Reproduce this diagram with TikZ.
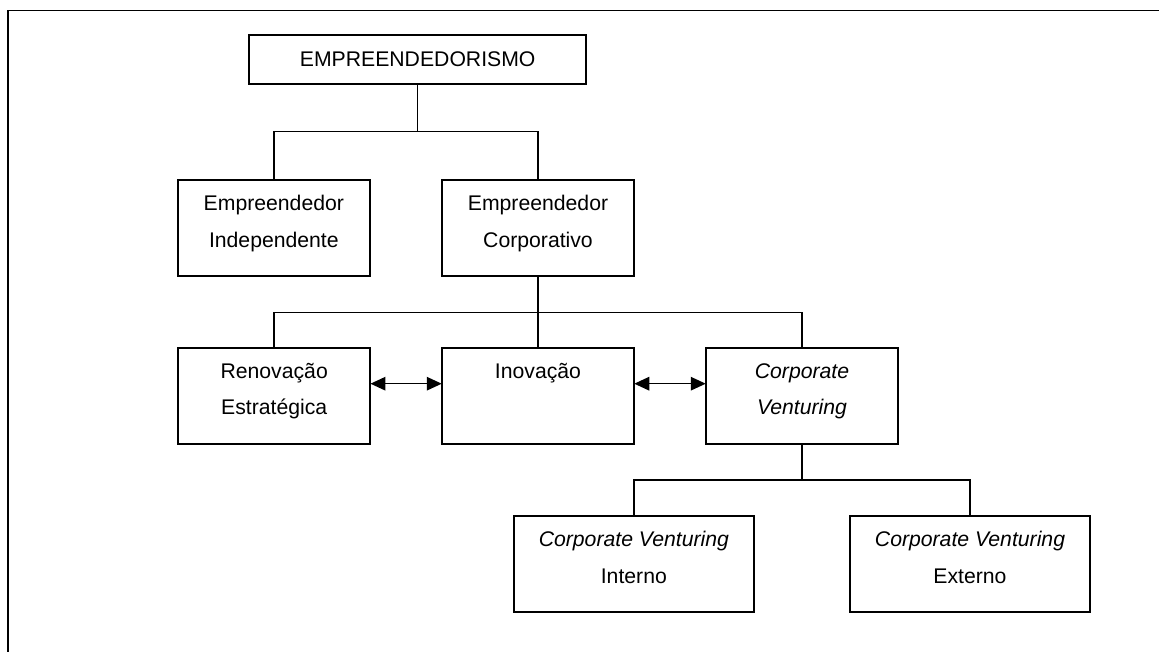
\documentclass[tikz,border=0pt]{standalone}
\usepackage{fontspec}
\setmainfont{Liberation Sans}
\usetikzlibrary{arrows.meta}
\newcommand{\bxt}[4]{\parbox[c][#2pt][t]{#1pt}{\centering\baselineskip=36.8pt\rule{0pt}{#3pt}#4\par}}
\begin{document}
\begin{tikzpicture}[x=1pt,y=-1pt,
  box/.style={draw, line width=2pt, inner sep=0pt, outer sep=0pt,
    font=\fontsize{21.2pt}{36.8pt}\selectfont},
  conn/.style={line width=1.5pt},
  biarrow/.style={line width=1.5pt, {Triangle[length=15pt,width=13.5pt]}-{Triangle[length=15pt,width=13.5pt]}}]
\useasboundingbox (0,0) rectangle (1159,652);
% frame (cut by the page at right and bottom)
\draw[line width=1.4pt] (8,660) -- (8,10.5) -- (1170,10.5);

\node[box] (top) at (417.7,59.35) {\bxt{336.7}{48.7}{31.5}{EMPREENDEDORISMO}};
\node[box] (ei)  at (273.85,227.9) {\bxt{192.5}{96}{30.7}{Empreendedor\\Independente}};
\node[box] (ec)  at (538,227.9) {\bxt{192.5}{96}{30.7}{Empreendedor\\Corporativo}};
\node[box] (ren) at (274.2,395.85) {\bxt{192.5}{96.3}{30.3}{Renovação\\Estratégica}};
\node[box] (ino) at (538,395.85) {\bxt{192.5}{96.3}{30.3}{Inovação}};
\node[box] (cv)  at (802,395.85) {\bxt{192.5}{96.3}{30.3}{\textit{Corporate}\\\textit{Venturing}}};
\node[box] (cvi) at (633.85,563.85) {\bxt{240.4}{96.3}{30.6}{\textit{Corporate Venturing}\\Interno}};
\node[box] (cve) at (970,563.85) {\bxt{240.4}{96.3}{30.6}{\textit{Corporate Venturing}\\Externo}};

\coordinate (bus1) at (417.7,131.7);
\coordinate (bus2) at (538,312.3);
\coordinate (bus3) at (802,480);

\draw[conn] (top.south) -- (bus1);
\draw[conn] (bus1) -| (ei.north);
\draw[conn] (bus1) -| (ec.north);

\draw[conn] (ec.south) -- (ino.north);
\draw[conn] (bus2) -| (ren.north);
\draw[conn] (bus2) -| (cv.north);

\draw[conn] (cv.south) -- (bus3);
\draw[conn] (bus3) -| (cvi.north);
\draw[conn] (bus3) -| (cve.north);

\draw[biarrow] ([yshift=12.15pt]ren.east) -- ([yshift=12.15pt]ino.west);
\draw[biarrow] ([yshift=12.15pt]ino.east) -- ([yshift=12.15pt]cv.west);
\end{tikzpicture}
\end{document}
